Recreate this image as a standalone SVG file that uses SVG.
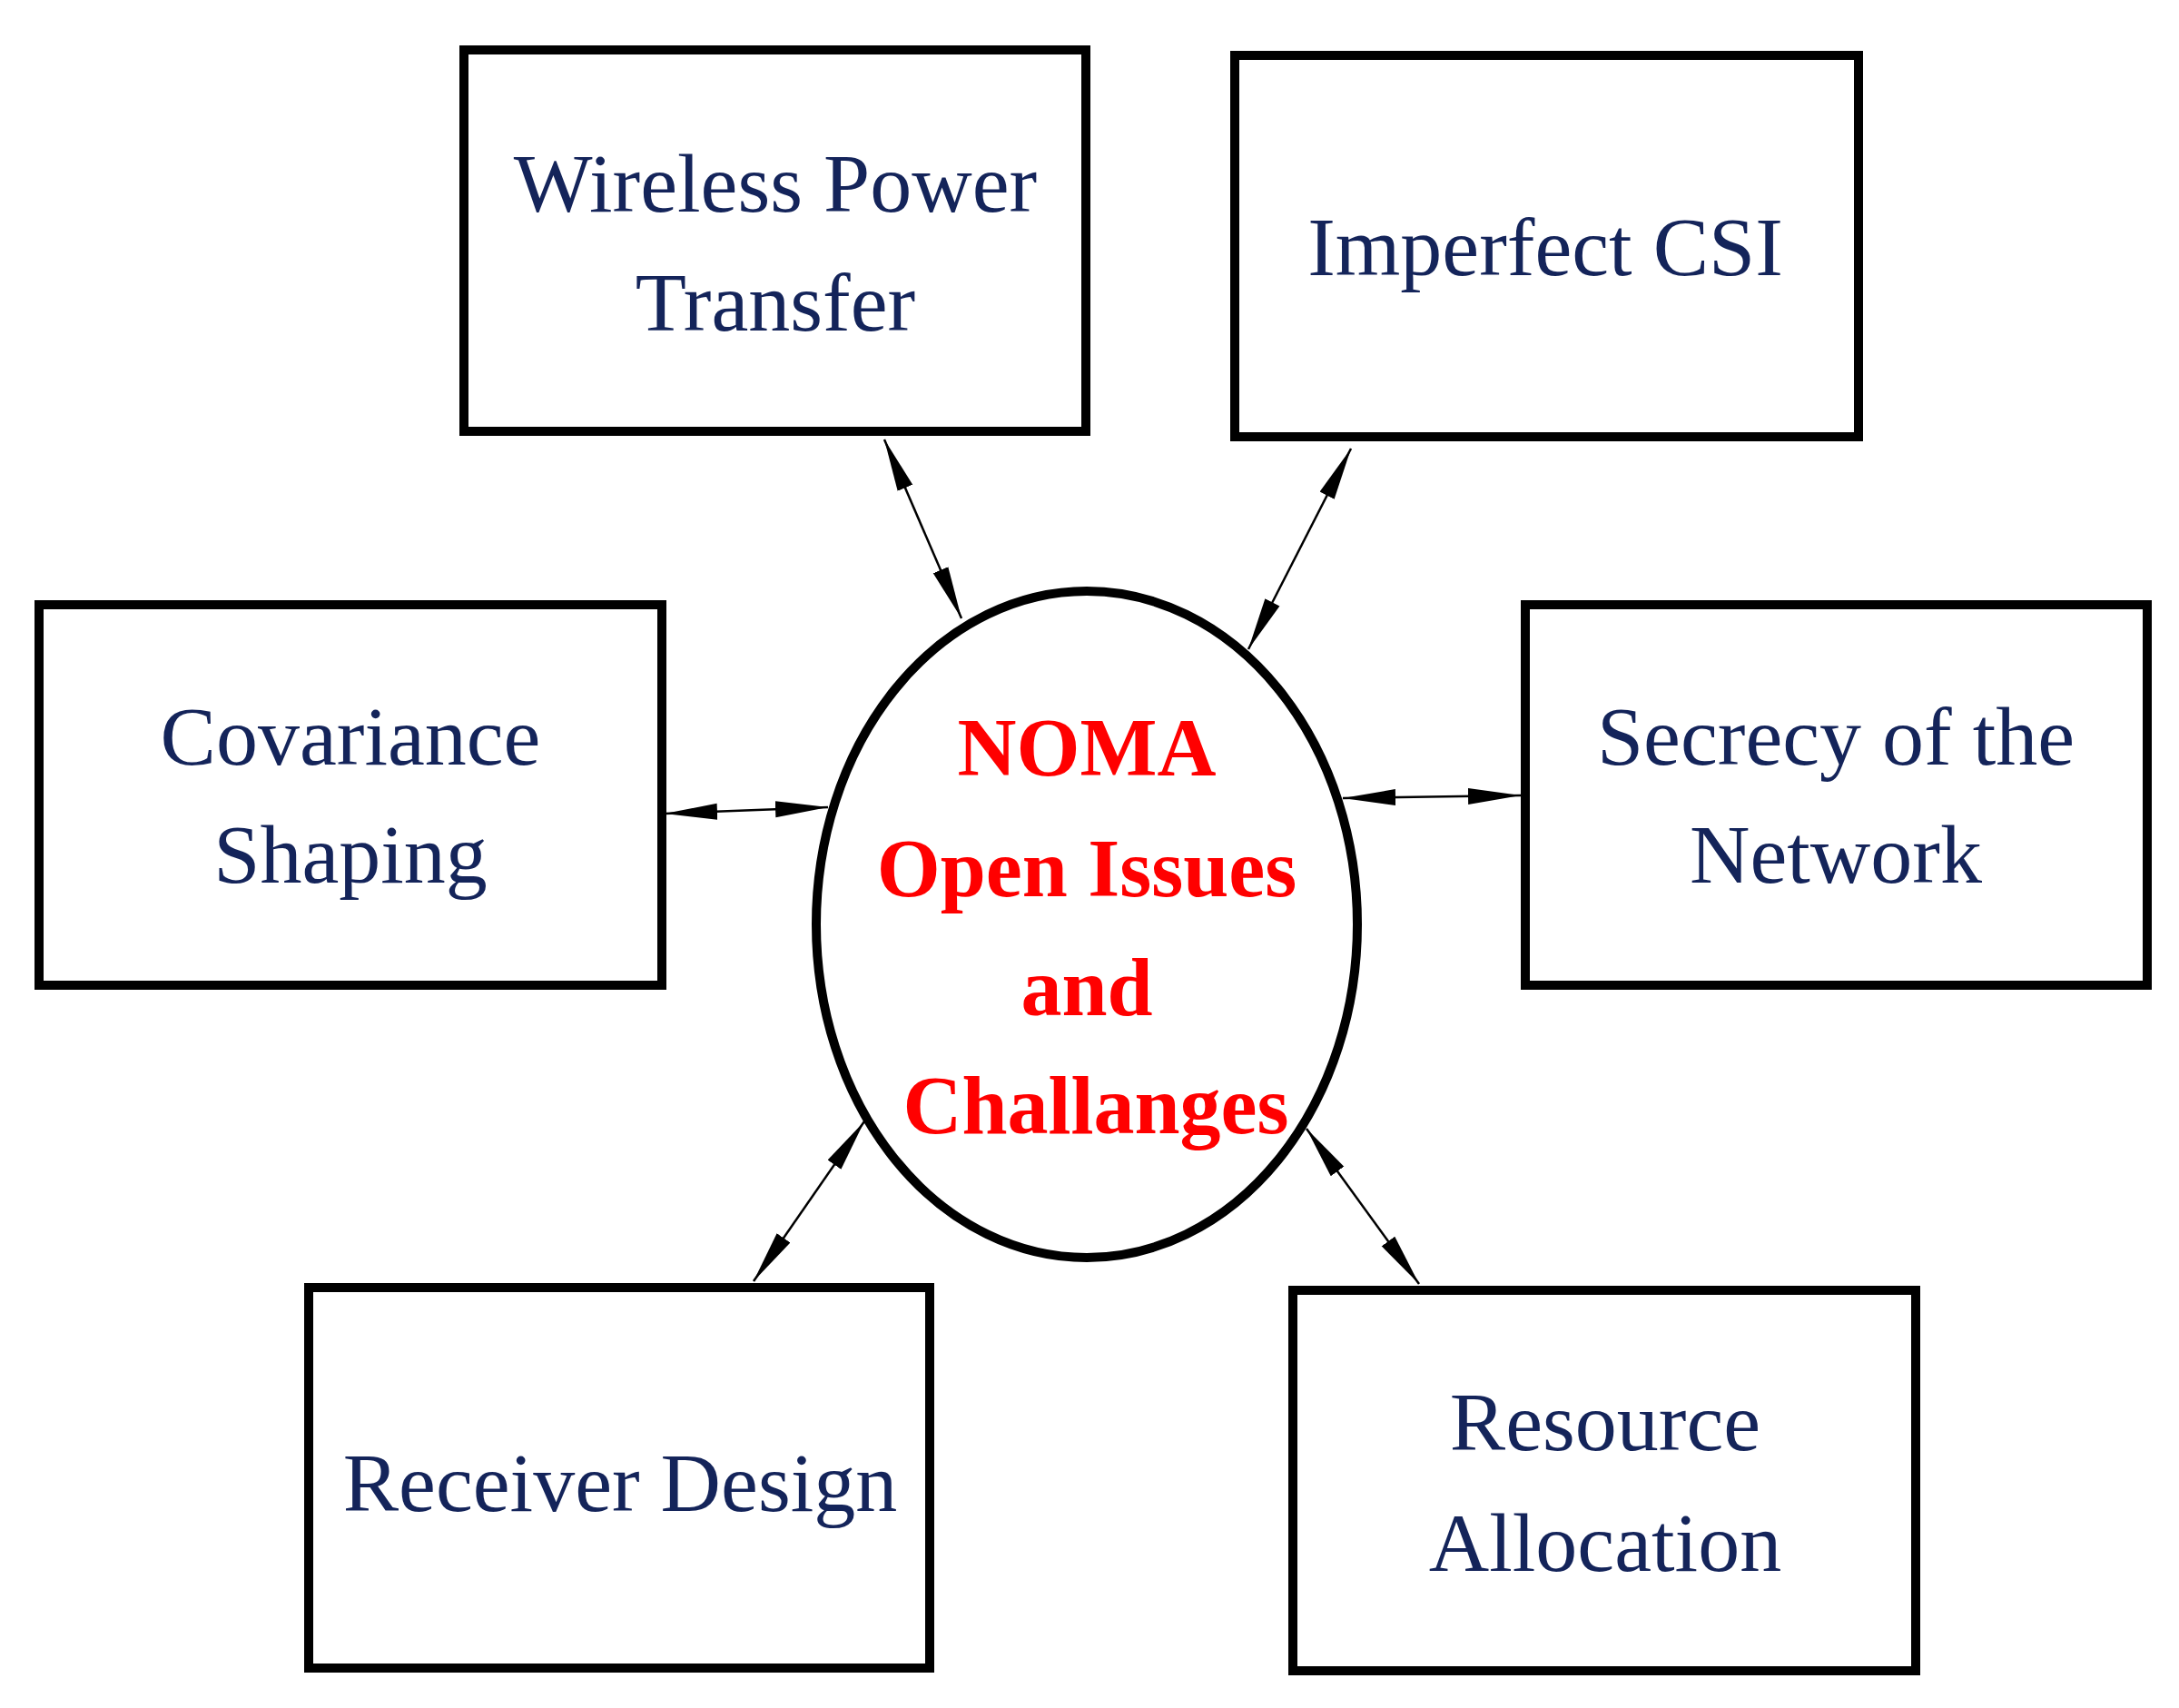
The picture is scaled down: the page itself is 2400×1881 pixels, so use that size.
<svg xmlns="http://www.w3.org/2000/svg" width="2400" height="1881" viewBox="0 0 2400 1881">
<style>
.box{fill:#fff;stroke:#000;stroke-width:10}
.t{font-family:"Liberation Serif",serif;font-size:92px;fill:#14245a;text-anchor:middle}
.r{font-family:"Liberation Serif",serif;font-size:90px;font-weight:bold;fill:#ff0000;text-anchor:middle}
.c{stroke:#000;stroke-width:2.5;fill:none;marker-start:url(#a);marker-end:url(#a)}
</style>
<defs>
<marker id="a" markerUnits="userSpaceOnUse" markerWidth="60" markerHeight="24" refX="58" refY="12" orient="auto-start-reverse"><path d="M0,3 L58,12 L0,21 Z" fill="#000"/></marker>
</defs>
<rect width="2400" height="1881" fill="#fff"/>
<g id="connectors">
<line class="c" x1="974" y1="484" x2="1059" y2="681"/>
<line class="c" x1="1488" y1="494" x2="1375" y2="715"/>
<line class="c" x1="732" y1="896" x2="912" y2="889"/>
<line class="c" x1="1479" y1="879" x2="1675" y2="876"/>
<line class="c" x1="830" y1="1411" x2="952" y2="1235"/>
<line class="c" x1="1563" y1="1414" x2="1439" y2="1243"/>
</g>
<g id="wpt"><rect class="box" x="511" y="55" width="685" height="420"/><text class="t" x="854" y="233">Wireless Power</text><text class="t" x="854" y="364">Transfer</text></g>
<g id="csi"><rect class="box" x="1360" y="61" width="687" height="420"/><text class="t" x="1702" y="303">Imperfect CSI</text></g>
<g id="cov"><rect class="box" x="43" y="666" width="686" height="419"/><text class="t" x="386" y="842">Covariance</text><text class="t" x="386" y="972">Shaping</text></g>
<g id="sec"><rect class="box" x="1680" y="666" width="685" height="419"/><text class="t" x="2022" y="842">Secrecy of the</text><text class="t" x="2022" y="972">Network</text></g>
<g id="recv"><rect class="box" x="340" y="1418" width="684" height="419"/><text class="t" x="683" y="1664">Receiver Design</text></g>
<g id="res"><rect class="box" x="1424" y="1421" width="686" height="419"/><text class="t" x="1768" y="1597">Resource</text><text class="t" x="1768" y="1730">Allocation</text></g>
<g id="center"><ellipse cx="1197" cy="1018" rx="298" ry="367" fill="#fff" stroke="#000" stroke-width="10"/>
<text class="r" x="1197" y="854">NOMA</text><text class="r" x="1197" y="987">Open Issues</text><text class="r" x="1197" y="1118">and</text><text class="r" x="1207" y="1248">Challanges</text></g>
</svg>
